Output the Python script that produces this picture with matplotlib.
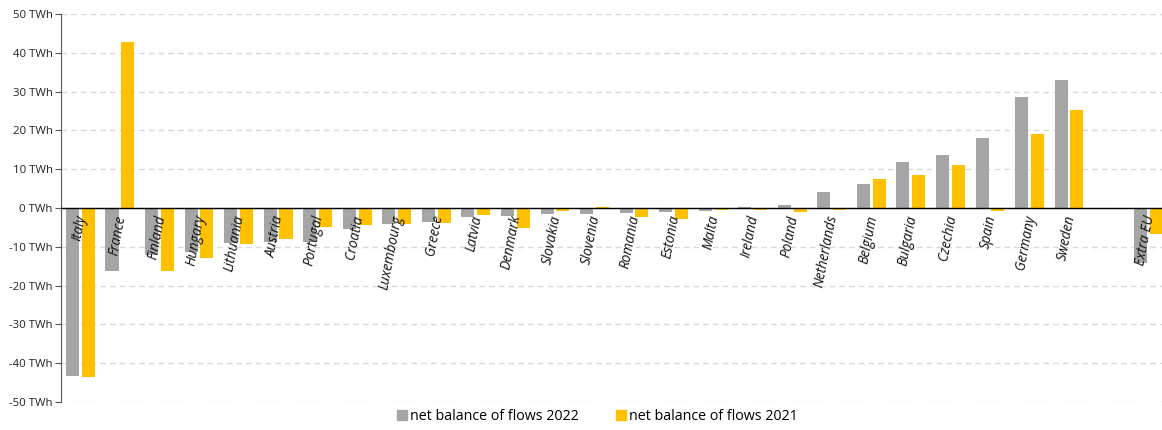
import matplotlib
matplotlib.use("Agg")
import matplotlib.pyplot as plt
import matplotlib.transforms as mtransforms
from matplotlib.patches import Patch
import numpy as np

# data (TWh)
countries = ["Italy", "France", "Finland", "Hungary", "Lithuania", "Austria", "Portugal",
             "Croatia", "Luxembourg", "Greece", "Latvia", "Denmark", "Slovakia", "Slovenia",
             "Romania", "Estonia", "Malta", "Ireland", "Poland", "Netherlands", "Belgium",
             "Bulgaria", "Czechia", "Spain", "Germany", "Sweden", "Extra EU"]
# slot index of each category (empty slot before Extra EU)
slots = list(range(26)) + [27]
flows_2022 = [-43.2, -16.2, -12.1, -11.3, -8.9, -8.7, -8.7, -5.4, -4.0, -3.5, -2.3, -2.1,
              -1.6, -1.5, -1.2, -1.0, -0.7, 0.2, 0.8, 4.0, 6.2, 11.9, 13.6, 18.0, 28.5,
              32.9, -14.1]
flows_2021 = [-43.5, 42.8, -16.2, -13.0, -9.2, -7.9, -4.8, -4.4, -4.0, -3.8, -1.7, -5.1,
              -0.8, 0.2, -2.2, -2.8, -0.6, -0.6, -1.1, -0.4, 7.5, 8.5, 11.0, -0.9, 19.0,
              25.2, -6.7]
yticks = list(range(-50, 51, 10))

grey = "#A5A5A5"
yellow = "#FFC000"
font = "Open Sans"
plt.rcParams["font.family"] = [font, "DejaVu Sans"]

fig = plt.figure(figsize=(11.62, 4.30), dpi=100)
ax = fig.add_axes([61 / 1162, 28 / 430, 1101 / 1162, 388 / 430])

x = np.array(slots)
w = 0.33
ax.bar(x - 0.2, flows_2022, width=w, color=grey, zorder=3)
ax.bar(x + 0.2, flows_2021, width=w, color=yellow, zorder=3)

ax.set_xlim(-0.49, 27.35)
ax.set_ylim(-50, 50)
ax.set_yticks(yticks)
ax.set_yticklabels([f"{v} TWh" for v in yticks], fontsize=8.2, color="#222222")
ax.set_xticks([])
ax.grid(axis="y", color="#D9D9D9", linestyle=(0, (4, 3)), linewidth=1, zorder=0)
ax.axhline(0, color="black", linewidth=1, zorder=4)

for s in ["top", "right", "bottom"]:
    ax.spines[s].set_visible(False)
ax.spines["left"].set_color("#555555")
ax.tick_params(axis="y", length=4, color="#555555", pad=2)

# category labels sit just under the zero line, overlapping the bars
lab_tr = mtransforms.offset_copy(ax.transData, fig=fig, x=9, y=-6, units="dots")
for xi, name in zip(slots, countries):
    ax.text(xi, 0, name, transform=lab_tr, rotation=79, ha="right", va="top",
            fontsize=9.8, style="italic", color="#111111", zorder=5)

handles = [Patch(color=grey, label="net balance of flows 2022"),
           Patch(color=yellow, label="net balance of flows 2021")]
fig.legend(handles=handles, loc="lower center", ncol=2, frameon=False, fontsize=10.3,
           handlelength=0.7, handleheight=0.7, handletextpad=0.2, columnspacing=2.6,
           bbox_to_anchor=(0.514, -0.015))

fig.savefig("out.png", dpi=100)
